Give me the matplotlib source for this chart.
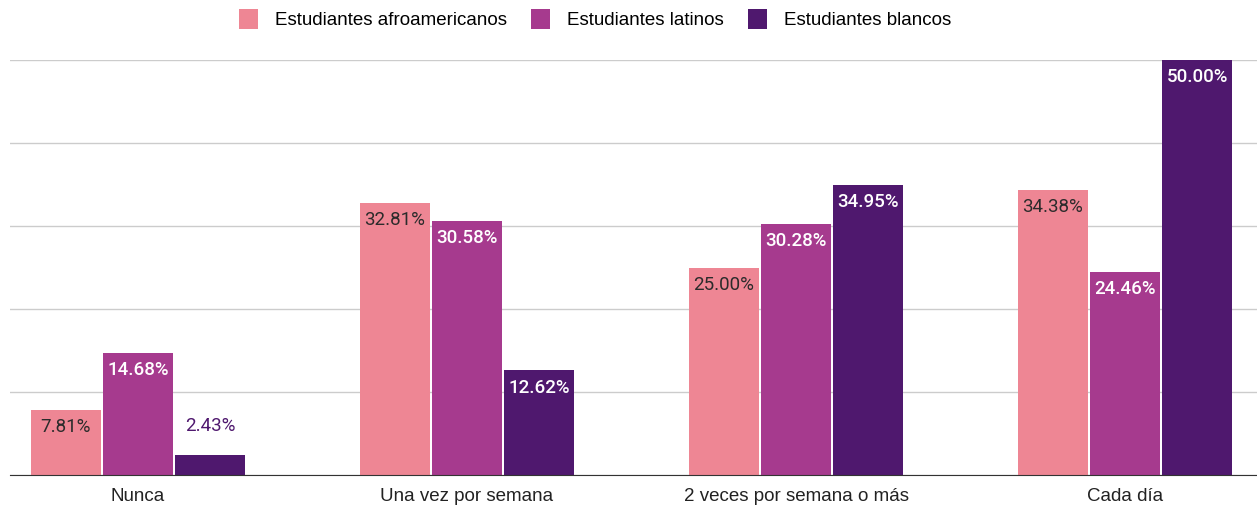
import matplotlib.pyplot as plt
import numpy as np

plt.rcParams['font.family'] = ['Roboto', 'DejaVu Sans']

categories = ["Nunca", "Una vez por semana", "2 veces por semana o más", "Cada día"]
series_names = ["Estudiantes afroamericanos", "Estudiantes latinos", "Estudiantes blancos"]
afro = [7.81, 32.81, 25.00, 34.38]
latinos = [14.68, 30.58, 30.28, 24.46]
blancos = [2.43, 12.62, 34.95, 50.00]

colors = ["#ee8694", "#a63a8e", "#4f186e"]
text_colors = ["#2b2b2b", "white", "white"]

fig = plt.figure(figsize=(12.57, 5.08), dpi=100)
ax = fig.add_axes([10 / 1257, 33 / 508, 1247 / 1257, 415 / 508])

x = np.arange(len(categories))
width = 0.213
step = 0.219
for i, (vals, name) in enumerate(zip([afro, latinos, blancos], series_names)):
    pos = x + (i - 1) * step
    ax.bar(pos, vals, width=width, color=colors[i], label=name, zorder=3)
    for p, v in zip(pos, vals):
        label = f"{v:.2f}%"
        if v < 5:
            ax.text(p, v + 2.4, label, ha="center", va="bottom", fontsize=13.5,
                    color=colors[i], zorder=4)
        else:
            ax.text(p, v - 1.0, label, ha="center", va="top", fontsize=13.5,
                    color=text_colors[i], zorder=4,
                    fontweight="medium" if i > 0 else "normal")

ax.set_xlim(-0.389, 3.401)
ax.set_ylim(0, 50)
ax.set_yticks([0, 10, 20, 30, 40, 50])
ax.yaxis.grid(True, color="#cccccc", linewidth=1, zorder=0)
ax.tick_params(axis="y", left=False, labelleft=False)
ax.tick_params(axis="x", bottom=False, colors="#222222", pad=6)
ax.set_xticks(x)
ax.set_xticklabels(categories, fontsize=13.5, family=["Liberation Sans", "DejaVu Sans"])
for s in ["top", "right", "left"]:
    ax.spines[s].set_visible(False)
ax.spines["bottom"].set_color("#333333")
ax.spines["bottom"].set_zorder(5)

fig.legend(loc="center", bbox_to_anchor=(595 / 1257, 1 - 19 / 508), ncol=3,
           frameon=False, prop={"family": ["Liberation Sans", "DejaVu Sans"], "size": 13.5},
           handlelength=1.0, handleheight=1.25, columnspacing=1.3, handletextpad=0.9)

fig.savefig("out.png", dpi=100)
